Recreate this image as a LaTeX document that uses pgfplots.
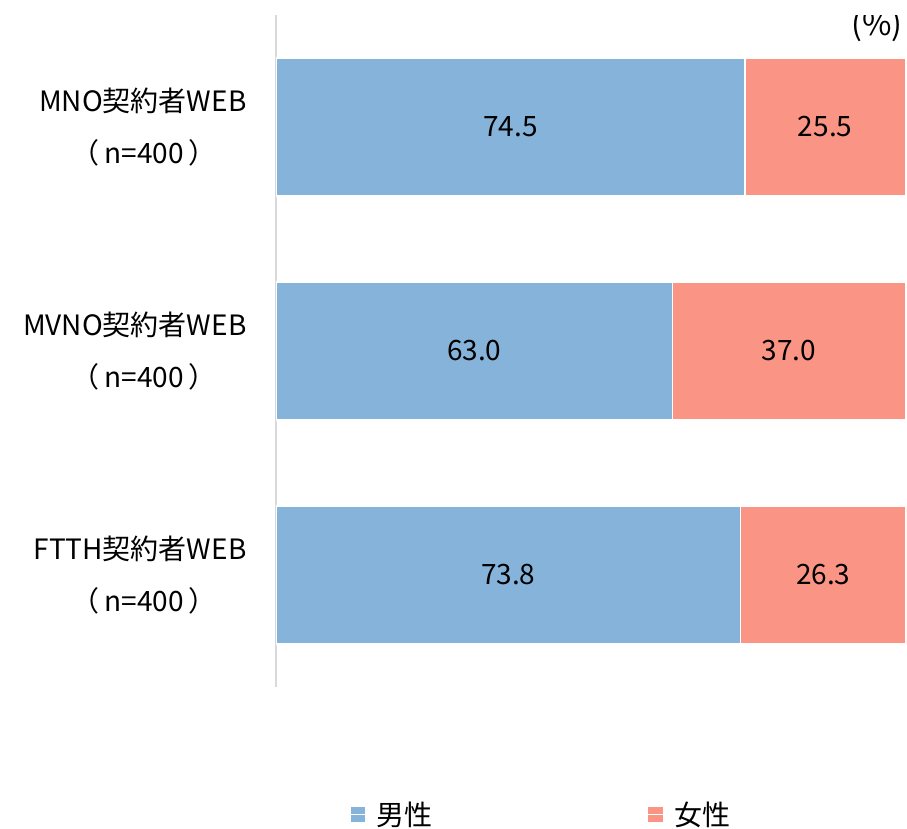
\documentclass[border=0pt]{standalone}
\usepackage{pgfplots}
\pgfplotsset{compat=1.18}
\usepackage{fontspec}
\setmainfont{Noto Sans CJK JP}
\definecolor{male}{RGB}{133,179,218}
\definecolor{female}{RGB}{250,148,132}
\definecolor{axgray}{RGB}{217,217,217}
\begin{document}
\begin{tikzpicture}
\useasboundingbox (-276pt,-141pt) rectangle (631pt,687pt);
\begin{axis}[
  at={(0,0)}, anchor=south west,
  scale only axis,
  width=630pt, height=672pt,
  xbar stacked,
  bar width=138pt,
  xmin=0, xmax=100.1,
  ymin=-0.5, ymax=2.5,
  y dir=reverse,
  axis x line=none,
  axis y line*=left,
  y axis line style={-, draw=axgray, line width=1.5pt},
  ytick={0,1,2},
  yticklabels={{MNO契約者WEB\\（\,n=400\,）\hspace*{30pt}},{MVNO契約者WEB\\（\,n=400\,）\hspace*{30pt}},{FTTH契約者WEB\\（\,n=400\,）\hspace*{30pt}}},
  yticklabel style={align=right, font={\fontsize{28}{52}\selectfont}, xshift=-26pt},
  major tick length=0pt,
  /pgf/number format/assume math mode=true,
  point meta=explicit,
  nodes near coords={\pgfmathprintnumber[fixed,precision=1,fixed zerofill,assume math mode=true]{\pgfplotspointmeta}},
  every node near coord/.append style={anchor=center, font={\fontsize{28}{30}\selectfont}, text=black},
  legend style={draw=none, at={(0.42,-0.19)}, anchor=center, legend columns=2,
    font={\fontsize{28}{30}\selectfont}, /tikz/every even column/.append style={column sep=212pt}},
  legend image code/.code={\fill[#1] (0pt,-8pt) rectangle (16pt,8pt); \path (0pt,0pt) -- (24pt,0pt);},
]
\addplot[fill=male, draw=white, line width=1.5pt] coordinates {(74.5,0) [74.5] (63.0,1) [63.0] (73.8,2) [73.8]};
\addplot[fill=female, draw=white, line width=1.5pt] coordinates {(25.5,0) [25.5] (37.0,1) [37.0] (26.3,2) [26.3]};
\legend{男性,女性}
\node[anchor=east, font={\fontsize{32}{34}\selectfont}] at (rel axis cs:1,0.985) {(\%)};
\end{axis}
\end{tikzpicture}
\end{document}
